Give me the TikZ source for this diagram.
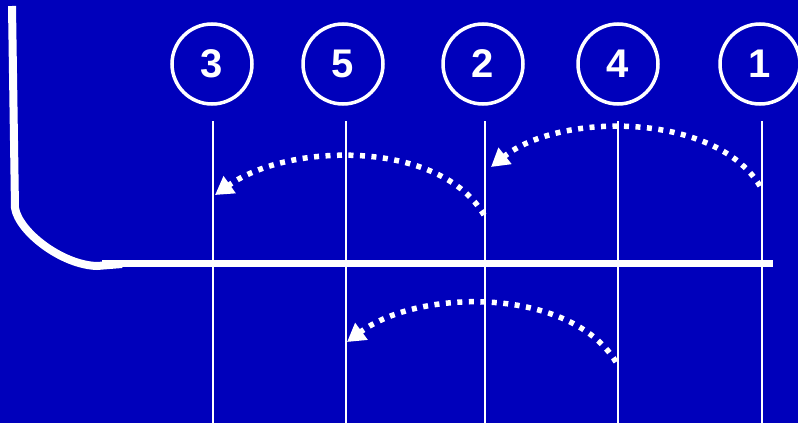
\documentclass[tikz,border=0pt]{standalone}
\usepackage{fontspec}
\setmainfont{Liberation Sans}
\usetikzlibrary{arrows.meta}
\definecolor{bg}{RGB}{0,0,187}
\tikzset{
  numcirc/.style={circle,draw=white,line width=3.5pt,minimum size=80pt,inner sep=0pt,text=white,font=\bfseries\fontsize{40}{40}\selectfont},
  vline/.style={white,line width=2pt},
  dotarrow/.style={white,line width=5.5pt,dash pattern=on 5pt off 6.5pt,-{Triangle[length=18pt,width=20pt]}},
}
\begin{document}
\begin{tikzpicture}[x=1pt,y=-1pt]
\fill[bg] (0,0) rectangle (798,423);
\useasboundingbox (0,0) rectangle (798,423);
% circles
\node[numcirc] (c3) at (212,64) {3};
\node[numcirc] (c5) at (343,64) {5};
\node[numcirc] (c2) at (483,64) {2};
\node[numcirc] (c4) at (618,64) {4};
\node[numcirc] (c1) at (760,64) {1};
% vertical lines
\coordinate (t3) at (213,121); \coordinate (b3) at (213,423);
\coordinate (t5) at (346,121); \coordinate (b5) at (346,423);
\coordinate (t2) at (485,121); \coordinate (b2) at (485,423);
\coordinate (t4) at (618,121); \coordinate (b4) at (618,423);
\coordinate (t1) at (762,121); \coordinate (b1) at (762,423);
\draw[vline] (t3) -- (b3);
\draw[vline] (t5) -- (b5);
\draw[vline] (t2) -- (b2);
\draw[vline] (t4) -- (b4);
\draw[vline] (t1) -- (b1);
% horizontal line and left curve
\coordinate (hl) at (102,263);
\coordinate (hr) at (773,263);
\draw[white,line width=7pt] (hl) -- (hr);
\coordinate (ltop) at (12,6);
\coordinate (lend) at (122,264);
\draw[white,line width=8pt] (ltop) -- (15,208) .. controls (19,232) and (62,265) .. (97,266) -- (lend);
% dotted arrows
\coordinate (a1s) at (760,186); \coordinate (a1e) at (491,167);
\coordinate (a2s) at (484,215); \coordinate (a2e) at (215,195);
\coordinate (a3s) at (616,362); \coordinate (a3e) at (347,342);
\draw[dotarrow] (a1s) .. controls (715,112) and (560,112) .. (a1e);
\draw[dotarrow] (a2s) .. controls (440,140) and (290,142) .. (a2e);
\draw[dotarrow] (a3s) .. controls (570,287) and (420,288) .. (a3e);
\end{tikzpicture}
\end{document}
